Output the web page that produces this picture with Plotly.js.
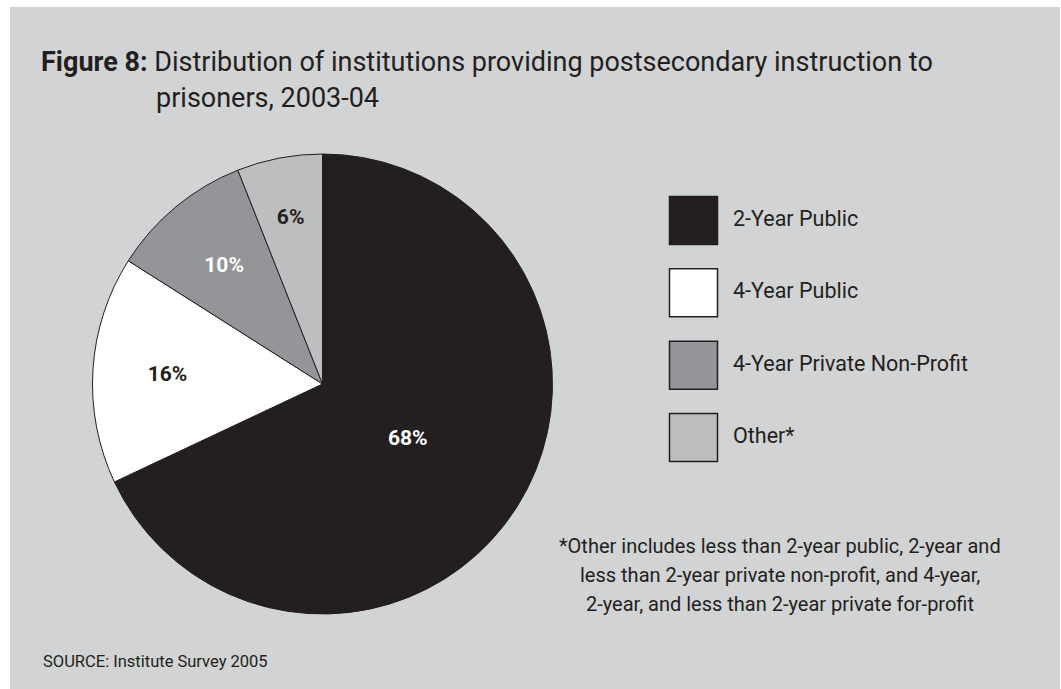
<!DOCTYPE html>
<html><head><meta charset="utf-8">
<script src="https://cdn.plot.ly/plotly-3.0.1.min.js"></script>
<style>
html,body{margin:0;padding:0;background:#ffffff;}
#chart{position:absolute;left:10px;top:7px;width:1050px;height:682px;}
</style></head><body><div id="chart"></div>
<script>
// ---- data ----
const categories = ['2-Year Public', '4-Year Public', '4-Year Private Non-Profit', 'Other*'];
const shares = [68, 16, 10, 6];
const sliceColors = ['#231f20', '#ffffff', '#939598', '#bcbec0'];
const labelColors = ['#ffffff', '#231f20', '#ffffff', '#231f20'];
const titleLine1 = '<b>Figure 8:</b> Distribution of institutions providing postsecondary instruction to';
const titleLine2 = 'prisoners, 2003-04';
const footnoteLines = [
  '*Other includes less than 2-year public, 2-year and',
  'less than 2-year private non-profit, and 4-year,',
  '2-year, and less than 2-year private for-profit'
];
const sourceText = 'SOURCE: Institute Survey 2005';

// ---- layout helpers (page px -> paper fraction of the 1050x682 panel at 10,7) ----
const W = 1050, H = 682, OX = 10, OY = 7;
const px = x => (x - OX) / W;
const py = y => 1 - (y - OY) / H;
const FONT = 'Roboto, "Liberation Sans", "DejaVu Sans", sans-serif';
const INK = '#231f20';
const CX = 322.5, CY = 384, R = 230, RLABEL = 202;
// which pie carries each slice's label (outer = main pie, inner = label pie)
const labelOnMain = [false, true, false, false];

const pie = {
  type: 'pie',
  labels: categories,
  values: shares,
  sort: false,
  direction: 'clockwise',
  rotation: 0,
  marker: {colors: sliceColors, line: {color: INK, width: 1}},
  texttemplate: '<b>%{value}%</b>',
  textposition: labelOnMain.map(m => m ? 'inside' : 'none'),
  insidetextorientation: 'horizontal',
  textfont: {family: FONT, size: 21, color: labelColors},
  hoverinfo: 'none',
  showlegend: false,
  domain: {x: [px(CX - R), px(CX + R)], y: [py(CY + R), py(CY - R)]}
};
// same slices, transparent, carrying the other percentage labels a little further in
const pieLabels = {
  type: 'pie',
  labels: categories,
  values: shares,
  sort: false,
  direction: 'clockwise',
  rotation: 0,
  marker: {colors: categories.map(() => 'rgba(0,0,0,0)'), line: {width: 0}},
  texttemplate: '<b>%{value}%</b>',
  textposition: labelOnMain.map(m => m ? 'none' : 'inside'),
  insidetextorientation: 'horizontal',
  textfont: {family: FONT, size: 21, color: labelColors},
  hoverinfo: 'none',
  showlegend: false,
  domain: {x: [px(CX - RLABEL), px(CX + RLABEL)], y: [py(CY + RLABEL), py(CY - RLABEL)]}
};

const legendMarks = {
  type: 'scatter', mode: 'markers',
  x: categories.map(() => 0), y: categories,
  marker: {symbol: 'square', size: 48, color: sliceColors, line: {color: INK, width: 1.5}},
  xaxis: 'x', yaxis: 'y', hoverinfo: 'none', showlegend: false, cliponaxis: false
};
const legendText = {
  type: 'scatter', mode: 'text',
  x: categories.map(() => 1), y: categories,
  text: categories, textposition: 'middle right',
  textfont: {family: FONT, size: 21.5, color: INK},
  xaxis: 'x', yaxis: 'y', hoverinfo: 'none', showlegend: false, cliponaxis: false
};

const rowTop = 220.5, rowBottom = 437.5, rowStep = (rowBottom - rowTop) / (categories.length - 1);
const hidden = {visible: false, showgrid: false, zeroline: false, fixedrange: true};

const annotations = [
  {text: titleLine2, xref: 'paper', yref: 'paper', x: px(154), y: py(98), xanchor: 'left', yanchor: 'middle',
   showarrow: false, font: {family: FONT, size: 27, color: INK}},
  {text: sourceText, xref: 'paper', yref: 'paper', x: px(41), y: py(661), xanchor: 'left', yanchor: 'middle',
   showarrow: false, font: {family: FONT, size: 16.5, color: INK}}
];
const footY = [546, 575, 604];
footnoteLines.forEach((t, i) => annotations.push({
  text: t, xref: 'paper', yref: 'paper', x: px(780), y: py(footY[i]), xanchor: 'center', yanchor: 'middle',
  showarrow: false, font: {family: FONT, size: 20, color: INK}
}));

const layout = {
  width: W, height: H,
  margin: {l: 0, r: 0, t: 0, b: 0},
  paper_bgcolor: '#d1d3d4', plot_bgcolor: 'rgba(0,0,0,0)',
  font: {family: FONT, color: INK},
  title: {text: titleLine1, xref: 'container', yref: 'container', x: px(41), y: py(62),
          xanchor: 'left', yanchor: 'middle', font: {family: FONT, size: 27, color: INK}},
  xaxis: Object.assign({domain: [px(693.5 - 39.5), px(693.5 + 39.5)], range: [-1, 1]}, hidden),
  yaxis: Object.assign({type: 'category', categoryorder: 'array', categoryarray: categories,
          domain: [py(rowBottom + rowStep / 2), py(rowTop - rowStep / 2)], range: [categories.length - 0.5, -0.5]}, hidden),
  annotations: annotations,
  showlegend: false
};

Plotly.newPlot('chart', [pie, pieLabels, legendMarks, legendText], layout, {displayModeBar: false, staticPlot: true});
</script></body></html>
